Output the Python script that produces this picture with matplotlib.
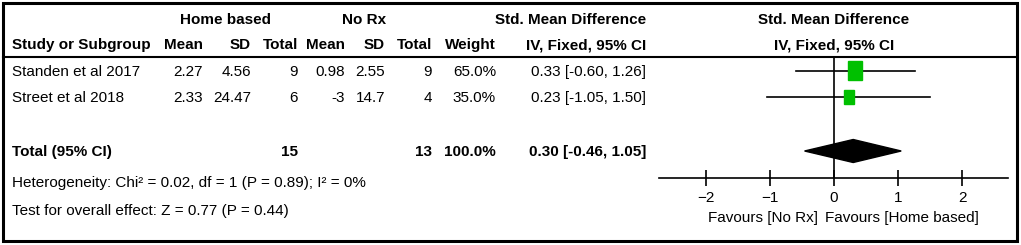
import matplotlib
matplotlib.use("Agg")
import matplotlib.pyplot as plt
from matplotlib.patches import Rectangle, Polygon

# data
studies = ["Standen et al 2017", "Street et al 2018"]
home_mean = [2.27, 2.33]
home_sd = [4.56, 24.47]
home_n = [9, 6]
norx_mean = [0.98, -3]
norx_sd = [2.55, 14.7]
norx_n = [9, 4]
weights = [65.0, 35.0]
smd = [0.33, 0.23]
ci_lo = [-0.60, -1.05]
ci_hi = [1.26, 1.50]
total_home_n = 15
total_norx_n = 13
total_weight = 100.0
total_smd = 0.30
total_lo = -0.46
total_hi = 1.05
xticks = [-2, -1, 0, 1, 2]
heterogeneity = "Heterogeneity: Chi² = 0.02, df = 1 (P = 0.89); I² = 0%"
overall = "Test for overall effect: Z = 0.77 (P = 0.44)"

W, H = 1021, 245
FONT = ["Liberation Sans", "DejaVu Sans"]
FS = 11
GREEN = "#00c000"

plt.rcParams["font.family"] = FONT
fig = plt.figure(figsize=(W / 100, H / 100), dpi=100)

# text layer in pixel coordinates
tax = fig.add_axes([0, 0, 1, 1])
tax.set_xlim(0, W)
tax.set_ylim(H, 0)
tax.axis("off")

# frame and header rule
tax.add_patch(Rectangle((3, 3), 1014, 238, fill=False, ec="black", lw=2.2))
tax.plot([3, 1017], [57, 57], color="black", lw=1.5)


def txt(x, y, s, ha="right", bold=False, fs=FS):
    tax.text(x, y, s, ha=ha, va="baseline", fontsize=fs,
             fontweight="bold" if bold else "normal")


# column right edges
col = {"hm": 203, "hsd": 251, "hn": 298, "nm": 345, "nsd": 385,
       "nn": 432, "w": 496, "ci": 646}

# headers
txt(225, 24, "Home based", ha="center", bold=True)
txt(364, 24, "No Rx", ha="center", bold=True)
txt(col["ci"], 24, "Std. Mean Difference", bold=True)
txt(834, 24, "Std. Mean Difference", ha="center", bold=True)
txt(12, 49, "Study or Subgroup", ha="left", bold=True)
for key, lab in [("hm", "Mean"), ("hsd", "SD"), ("hn", "Total"),
                 ("nm", "Mean"), ("nsd", "SD"), ("nn", "Total"),
                 ("w", "Weight"), ("ci", "IV, Fixed, 95% CI")]:
    txt(col[key], 49, lab, bold=True)
txt(834, 49, "IV, Fixed, 95% CI", ha="center", bold=True)

# study rows
row_base = [76, 102]
for i, name in enumerate(studies):
    y = row_base[i]
    txt(12, y, name, ha="left")
    txt(col["hm"], y, f"{home_mean[i]:g}")
    txt(col["hsd"], y, f"{home_sd[i]:g}")
    txt(col["hn"], y, f"{home_n[i]}")
    txt(col["nm"], y, f"{norx_mean[i]:g}")
    txt(col["nsd"], y, f"{norx_sd[i]:g}")
    txt(col["nn"], y, f"{norx_n[i]}")
    txt(col["w"], y, f"{weights[i]:.1f}%")
    txt(col["ci"], y, f"{smd[i]:.2f} [{ci_lo[i]:.2f}, {ci_hi[i]:.2f}]")

# total row
yt = 156
txt(12, yt, "Total (95% CI)", ha="left", bold=True)
txt(col["hn"], yt, f"{total_home_n}", bold=True)
txt(col["nn"], yt, f"{total_norx_n}", bold=True)
txt(col["w"], yt, f"{total_weight:.1f}%", bold=True)
txt(col["ci"], yt, f"{total_smd:.2f} [{total_lo:.2f}, {total_hi:.2f}]", bold=True)
txt(12, 187, heterogeneity, ha="left")
txt(12, 215, overall, ha="left")

# forest panel: x from 659 to 1008 px, y from header rule (57) to axis (178)
x0, x1, y_top, y_axis = 659, 1008, 57, 178
fax = fig.add_axes([x0 / W, 1 - y_axis / H, (x1 - x0) / W, (y_axis - y_top) / H])
fax.patch.set_alpha(0)
px_per_unit = 64.0
xmin = (x0 - 834) / px_per_unit
xmax = (x1 - 834) / px_per_unit
fax.set_xlim(xmin, xmax)
row_px = 26.8
row_y = [0, 1]
total_y = (151 - 70.5) / row_px
fax.set_ylim((y_axis - 70.5) / row_px, (y_top - 70.5) / row_px)
for s in ["top", "left", "right"]:
    fax.spines[s].set_visible(False)
fax.spines["bottom"].set_linewidth(1.2)
fax.set_yticks([])
fax.set_xticks(xticks)
fax.set_xticklabels([str(t).replace("-", "\u2212") for t in xticks])
fax.tick_params(axis="x", direction="inout", length=11, width=1.2,
                labelsize=FS, pad=4)
fax.axvline(0, color="black", lw=1.2, zorder=1)

for i in range(len(studies)):
    y = row_y[i]
    fax.plot([ci_lo[i], ci_hi[i]], [y, y], color="black", lw=1.2, zorder=2)
    side_px = 1.736 * weights[i] ** 0.5
    w = side_px / px_per_unit
    h = side_px * 1.36 / row_px
    fax.add_patch(Rectangle((smd[i] - w / 2, y - h / 2), w, h,
                            color=GREEN, zorder=3))

dh = 11.5 / row_px
fax.add_patch(Polygon([(total_lo, total_y), (total_smd, total_y - dh),
                       (total_hi, total_y), (total_smd, total_y + dh)],
                      closed=True, color="black", zorder=3))

# favours labels
txt(818, 222, "Favours [No Rx]")
txt(825, 222, "Favours [Home based]", ha="left")

fig.savefig("out.png", dpi=100)
